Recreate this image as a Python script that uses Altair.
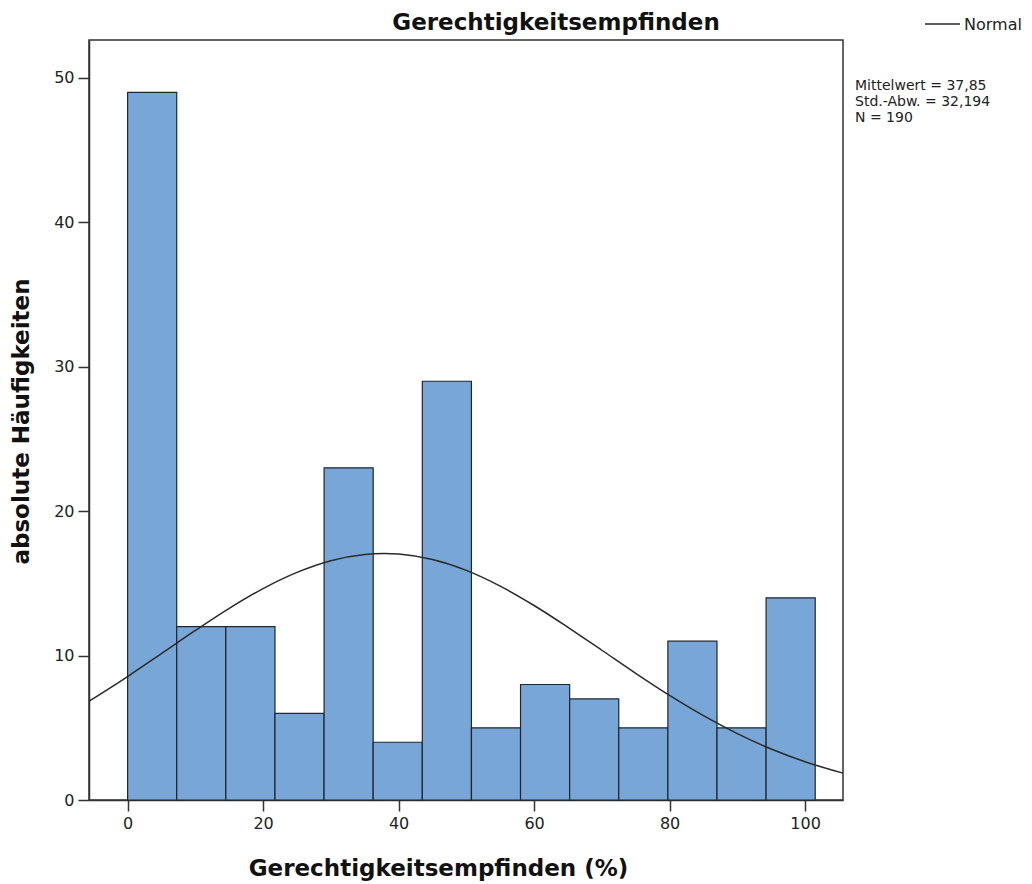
import altair as alt
import pandas as pd

# Histogram data
bin_start = [0, 7.25, 14.5, 21.75, 29, 36.25, 43.5, 50.75, 58, 65.25, 72.5, 79.75, 87, 94.25]
bin_end = [7.25, 14.5, 21.75, 29, 36.25, 43.5, 50.75, 58, 65.25, 72.5, 79.75, 87, 94.25, 101.5]
counts = [49, 12, 12, 6, 23, 4, 29, 5, 8, 7, 5, 11, 5, 14]

# Normal curve points
curve_x = [-5.7, 0, 5, 10, 15, 20, 25, 30, 35, 37.85, 40, 45, 50, 55, 60, 65, 70, 75, 80, 85, 90, 95, 100, 105.6]
curve_y = [6.84, 8.55, 10.14, 11.74, 13.27, 14.64, 15.76, 16.57, 17.00, 17.07, 17.03, 16.65, 15.90, 14.81,
           13.47, 11.96, 10.37, 8.77, 7.24, 5.84, 4.60, 3.53, 2.65, 1.86]

stats_lines = ["Mittelwert = 37,85", "Std.-Abw. = 32,194", "N = 190"]
x_ticks = [0, 20, 40, 60, 80, 100]
y_ticks = [0, 10, 20, 30, 40, 50]

bars_df = pd.DataFrame({"start": bin_start, "end": bin_end, "count": counts})
curve_df = pd.DataFrame({"x": curve_x, "y": curve_y})

W, H = 754, 760
xscale = alt.Scale(domain=[-5.7, 105.6], nice=False, zero=False)
yscale = alt.Scale(domain=[0, 52.63], nice=False, zero=True)

TICK_FONT = "DejaVu Sans"
TITLE_FONT = "DejaVu Sans"

xaxis = alt.Axis(values=x_ticks, grid=False, tickSize=11, labelPadding=4,
                 labelFont=TICK_FONT, labelFontSize=16, labelColor="#222",
                 title="Gerechtigkeitsempfinden (%)", titleFont=TITLE_FONT, titleFontSize=23,
                 titleFontWeight="bold", titleColor="#111", titleX=349, titleY=68,
                 titleBaseline="middle", titleAlign="center",
                 domainColor="#333", domainWidth=1.5, tickColor="#333", tickWidth=1.5)
yaxis = alt.Axis(values=y_ticks, grid=False, tickSize=11, labelPadding=4,
                 labelFont=TICK_FONT, labelFontSize=16, labelColor="#222",
                 title="absolute Häufigkeiten", titleFont=TITLE_FONT, titleFontSize=23,
                 titleFontWeight="bold", titleColor="#111", titleX=-68, titleY=381,
                 titleAngle=-90, titleBaseline="middle", titleAlign="center",
                 domainColor="#333", domainWidth=1.5, tickColor="#333", tickWidth=1.5)

bars = alt.Chart(bars_df).mark_rect(fill="#78a6d6", stroke="#1e2630", strokeWidth=1.2).encode(
    x=alt.X("start:Q", scale=xscale, axis=xaxis),
    x2="end:Q",
    y=alt.Y("count:Q", scale=yscale, axis=yaxis),
    y2=alt.datum(0),
)

curve = alt.Chart(curve_df).mark_line(color="#2a2a2a", strokeWidth=1.5, interpolate="monotone").encode(
    x=alt.X("x:Q", scale=xscale),
    y=alt.Y("y:Q", scale=yscale),
)

title_df = pd.DataFrame({"t": ["Gerechtigkeitsempfinden"]})
title = alt.Chart(title_df).mark_text(font=TITLE_FONT, fontSize=23, fontWeight="bold", color="#111",
                                      align="center", baseline="middle").encode(
    text="t:N", x=alt.value(467), y=alt.value(-17))

legend_rule = alt.Chart(title_df).mark_rule(color="#2a2a2a", strokeWidth=1.5).encode(
    x=alt.value(836), x2=alt.value(871), y=alt.value(-16))
legend_text = alt.Chart(pd.DataFrame({"t": ["Normal"]})).mark_text(
    font=TICK_FONT, fontSize=16, color="#222", align="left", baseline="middle").encode(
    text="t:N", x=alt.value(875), y=alt.value(-15))

stat_layers = []
for i, line in enumerate(stats_lines):
    stat_layers.append(
        alt.Chart(pd.DataFrame({"t": [line]})).mark_text(
            font=TICK_FONT, fontSize=14, color="#222", align="left", baseline="middle").encode(
            text="t:N", x=alt.value(766), y=alt.value(46 + i * 16))
    )

chart = alt.layer(bars, curve, title, legend_rule, legend_text, *stat_layers).properties(
    width=W, height=H,
    autosize=alt.AutoSizeParams(type="none"),
    padding={"left": 81, "top": 32, "right": 180, "bottom": 84},
    background="white",
).configure_view(stroke="#333", strokeWidth=1.5)

chart.save("out.html", embed_options={"renderer": "svg", "actions": False})
